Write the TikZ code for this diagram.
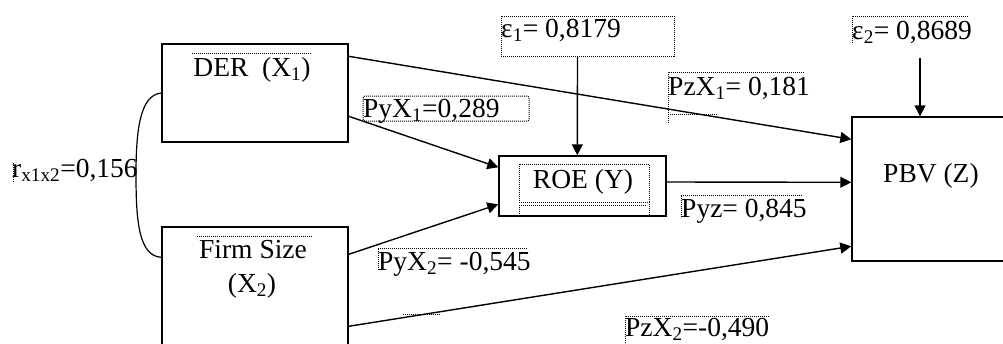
\documentclass[tikz,border=0pt]{standalone}
\usepackage{fontspec}
\setmainfont{Liberation Serif}
\usetikzlibrary{arrows.meta,calc}
\begin{document}
\begin{tikzpicture}[x=1pt,y=-1pt,
  box/.style={draw=black,line width=1.4pt,inner sep=0pt,rectangle},
  conn/.style={line width=1.4pt,-{Triangle[length=11pt,width=11pt]}},
  dotln/.style={line width=1pt,dash pattern=on 1pt off 1pt},
  lbl/.style={anchor=base west,inner sep=0pt,font=\fontsize{27.5}{32}\selectfont}]
\useasboundingbox (0,0) rectangle (1003,343);
\clip (0,0) rectangle (1003,343);
% boxes
\node[box,minimum width=186pt,minimum height=98pt] (der) at (255,93) {};
\node[box,minimum width=186pt,minimum height=140pt] (firm) at (255,297) {};
\node[box,minimum width=167pt,minimum height=60pt] (roe) at (582.5,186) {};
\node[box,minimum width=160pt,minimum height=144pt] (pbv) at (932,189) {};
\node[draw,dotln,inner sep=0pt,minimum width=173pt,minimum height=40pt] (e1) at (587.5,36) {};
\node[draw,dotln,rounded corners=2pt,inner sep=0pt,minimum width=166pt,minimum height=25pt] (pyx1box) at (446,108.5) {};
\node[draw,dotln,inner sep=0pt,minimum width=130pt,minimum height=38pt] (roein) at (584,183) {};
% texts
\node[lbl,anchor=base] (dert) at (252,76) {DER\ \ (X\textsubscript{1})};
\node[lbl,anchor=base] (firmt1) at (253,258) {Firm Size};
\node[lbl,anchor=base] (firmt2) at (252,292) {(X\textsubscript{2})};
\node[lbl] (rt) at (12,177) {r\textsubscript{x1x2}=0,156};
\node[lbl] (e1t) at (501,37) {ε\textsubscript{1}= 0,8179};
\node[lbl] (pyx1t) at (363,117) {PyX\textsubscript{1}=0,289};
\node[lbl,anchor=base] (roet) at (583,188) {ROE (Y)};
\node[lbl] (pzx1t) at (668,95) {PzX\textsubscript{1}= 0,181};
\node[lbl] (e2t) at (852,39) {ε\textsubscript{2}= 0,8689};
\node[lbl] (pbvt) at (883,182) {PBV (Z)};
\node[lbl] (pyzt) at (681,217) {Pyz= 0,845};
\node[lbl] (pyx2t) at (378,270) {PyX\textsubscript{2}= -0,545};
\node[lbl] (pzx2t) at (625,336) {PzX\textsubscript{2}=-0,490};
% dotted fragments
\draw[dotln] (192,53) -- (311,53);
\draw[dotln] (197,236) -- (313,236);
\draw[dotln] (13,163) -- (13,183);
\draw[dotln] (519,205) -- (647,205);
\draw[dotln] (519,205) -- (519,216);
\draw[dotln] (649,202) -- (649,216);
\draw[dotln] (852,43) -- (852,16) -- (968,16);
\draw[dotln] (668,123) -- (668,72) -- (805,72);
\draw[dotln] (668,114) -- (718,114);
\draw[dotln] (681,217) -- (681,195) -- (802,195);
\draw[dotln] (378,270) -- (378,248) -- (528,248);
\draw[dotln] (625,343) -- (625,316) -- (770,316);
\draw[dotln] (403,314) -- (440,314);
% connectors
\draw[conn] ($(der.north east)+(0,13)$) -- ($(pbv.north west)+(0,23)$);
\draw[conn] ($(der.north east)+(0,73)$) -- ($(roe.north west)+(0,12)$);
\draw[conn] ($(firm.north east)+(0,28)$) -- ($(roe.north west)+(0,49)$);
\draw[conn] ($(firm.north east)+(0,100)$) -- ($(pbv.north west)+(0,130)$);
\draw[conn] ($(roe.east)+(0,-4)$) -- ($(pbv.north west)+(0,66)$);
\draw[conn] ($(e1.south west)+(77,0)$) -- ($(roe.north west)+(79,0)$);
\coordinate (e2a) at (920,58);
\draw[conn] (e2a) -- (e2a |- pbv.north);
% correlation curve
\draw[line width=1.2pt] (der.west) .. controls (140,95) and (136,130) .. (136,175)
  .. controls (136,222) and (139,256) .. ($(firm.north west)+(0,31)$);
\end{tikzpicture}
\end{document}
